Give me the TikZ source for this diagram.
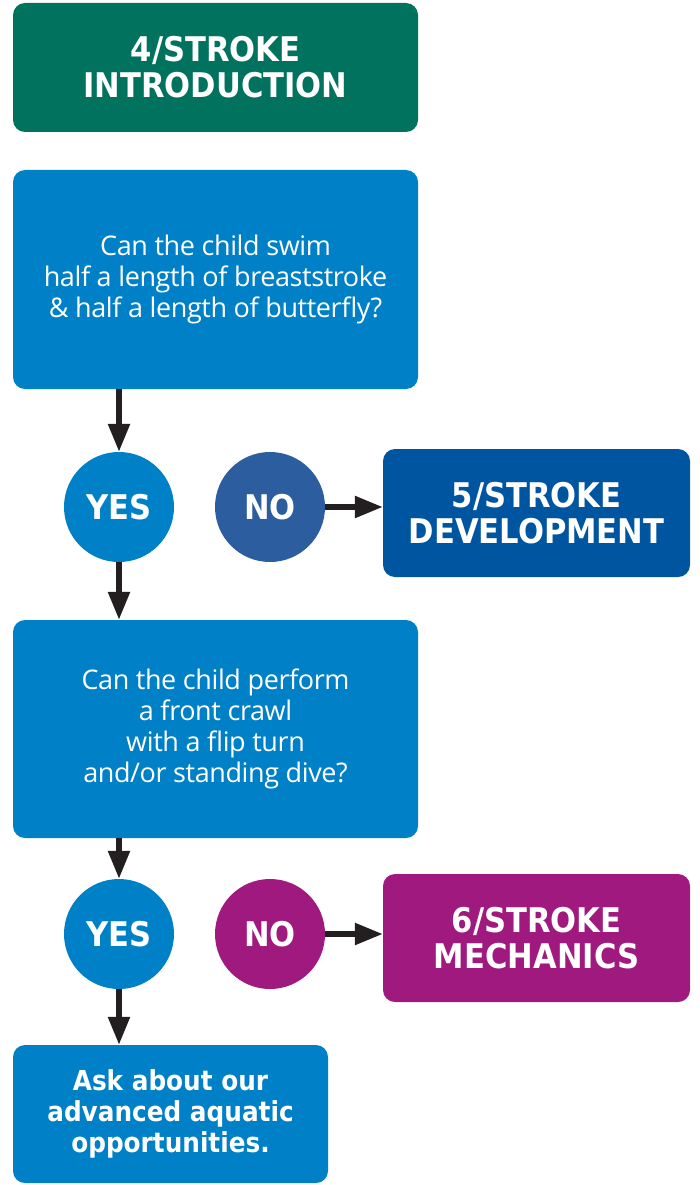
\documentclass[tikz,border=0pt]{standalone}
\usepackage{fontspec}
\setmainfont{Open Sans}[LetterSpace=-1.5]
\newfontfamily\headfont{DejaVu Sans}[FakeStretch=0.9]
\usetikzlibrary{arrows.meta}

\definecolor{introgreen}{HTML}{00725E}
\definecolor{askblue}{HTML}{0080C6}
\definecolor{nonavy}{HTML}{2C5D9F}
\definecolor{devblue}{HTML}{0055A0}
\definecolor{mechpurple}{HTML}{A0197E}
\definecolor{arrowblack}{HTML}{231F20}

\begin{document}
\begin{tikzpicture}[
    x=1pt, y=-1pt,
    stagebox/.style={rectangle, rounded corners=12pt, inner sep=0pt, text=white, align=center, font=\headfont\fontsize{34}{36}\selectfont\bfseries},
    askbox/.style={rectangle, rounded corners=12pt, inner sep=0pt, fill=askblue, text=white, align=center, font=\fontsize{27}{31}\selectfont},
    answer/.style={circle, minimum size=110pt, inner sep=0pt, text=white, font=\headfont\fontsize{34}{34}\selectfont\bfseries},
    flow/.style={draw=arrowblack, line width=5.5pt, -{Triangle[length=28pt, width=21pt]}}
    ]

    \useasboundingbox (0,0) rectangle (699,1185);

    % stage 4
    \node[stagebox, fill=introgreen, minimum width=405pt, minimum height=129pt] (intro) at (215.5,67.5) {4/STROKE\\INTRODUCTION};

    % first question
    \node[askbox, minimum width=405pt, minimum height=219pt] (qbreast) at (215.5,279.5) {Can the child swim\\half a length of breaststroke\\\& half a length of butterfly?};

    \node[answer, fill=askblue] (yesa) at (119,507) {YES};
    \node[answer, fill=nonavy] (noa) at (270,507) {NO};
    \node[stagebox, fill=devblue, minimum width=307pt, minimum height=128pt] (develop) at (536.5,513) {5/STROKE\\DEVELOPMENT};

    % second question
    \node[askbox, minimum width=405pt, minimum height=218pt] (qcrawl) at (215.5,729) {Can the child perform\\a front crawl\\with a flip turn\\and/or standing dive?};

    \node[answer, fill=askblue] (yesb) at (119,934) {YES};
    \node[answer, fill=mechpurple] (nob) at (270,934) {NO};
    \node[stagebox, fill=mechpurple, minimum width=307pt, minimum height=128pt] (mech) at (536.5,938) {6/STROKE\\MECHANICS};

    % advanced
    \node[askbox, minimum width=315pt, minimum height=138pt, font=\headfont\fontsize{27.5}{31}\selectfont\bfseries] (advanced) at (170.5,1114) {Ask about our\\advanced aquatic\\opportunities.};

    % connectors
    \draw[flow] (yesa |- qbreast.south) -- (yesa.north);
    \draw[flow] (noa.east) -- (noa.east -| develop.west);
    \draw[flow] (yesa.south) -- (yesa |- qcrawl.north);
    \draw[flow] (yesb |- qcrawl.south) -- (yesb.north);
    \draw[flow] (nob.east) -- (nob.east -| mech.west);
    \draw[flow] (yesb.south) -- (yesb |- advanced.north);

\end{tikzpicture}
\end{document}
